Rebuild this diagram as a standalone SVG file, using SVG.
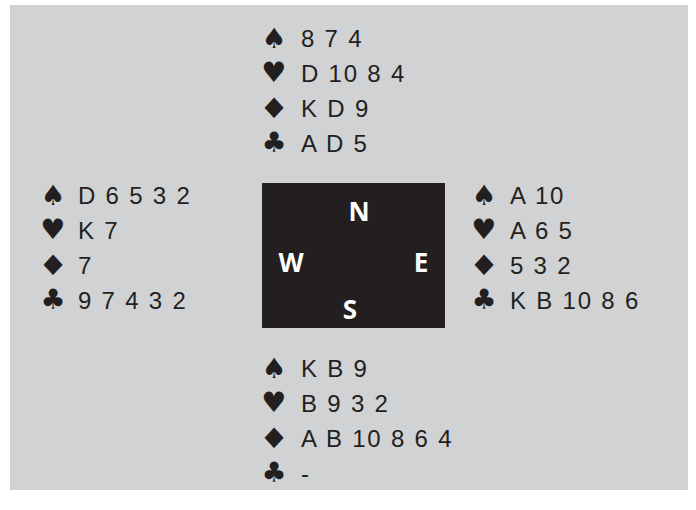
<svg xmlns="http://www.w3.org/2000/svg" width="696" height="510" viewBox="0 0 696 510">
<style>
.card{font-family:"Liberation Sans",Arial,sans-serif;font-size:24px;letter-spacing:1.8px;fill:#231f20}
.suit{font-family:"DejaVu Sans",sans-serif;font-size:28px;fill:#231f20;text-anchor:middle}
.dia{font-family:"DejaVu Sans",sans-serif;font-size:28px;fill:#231f20;text-anchor:middle}
.dir{font-family:"Open Sans","DejaVu Sans",sans-serif;font-weight:bold;font-size:26px;fill:#ffffff;text-anchor:middle}
</style>
<rect x="10" y="5" width="678" height="485" fill="#d1d2d4"/>
<g id="table">
<rect x="262" y="183" width="183" height="145" fill="#231f20"/>
<text class="dir" x="359" y="221">N</text>
<text class="dir" x="291" y="272">W</text>
<text class="dir" x="421" y="272">E</text>
<text class="dir" x="350" y="319">S</text>
</g>
<g id="north">
<text class="suit" x="274" y="48">♠</text><text class="card" x="301" y="47">8 7 4</text>
<text class="suit" x="274" y="82">♥</text><text class="card" x="301" y="82">D 10 8 4</text>
<text class="dia" transform="translate(274,118) scale(1.2,1)">♦</text><text class="card" x="301" y="117">K D 9</text>
<text class="suit" x="274" y="152">♣</text><text class="card" x="301" y="152">A D 5</text>
</g>
<g id="west">
<text class="suit" x="53" y="205">♠</text><text class="card" x="78" y="204">D 6 5 3 2</text>
<text class="suit" x="53" y="239">♥</text><text class="card" x="78" y="239">K 7</text>
<text class="dia" transform="translate(53,275) scale(1.2,1)">♦</text><text class="card" x="78" y="274">7</text>
<text class="suit" x="53" y="309">♣</text><text class="card" x="78" y="309">9 7 4 3 2</text>
</g>
<g id="east">
<text class="suit" x="484" y="205">♠</text><text class="card" x="510" y="204">A 10</text>
<text class="suit" x="484" y="239">♥</text><text class="card" x="510" y="239">A 6 5</text>
<text class="dia" transform="translate(484,275) scale(1.2,1)">♦</text><text class="card" x="510" y="274">5 3 2</text>
<text class="suit" x="484" y="309">♣</text><text class="card" x="510" y="309">K B 10 8 6</text>
</g>
<g id="south">
<text class="suit" x="274" y="378">♠</text><text class="card" x="301" y="377">K B 9</text>
<text class="suit" x="274" y="412">♥</text><text class="card" x="301" y="412">B 9 3 2</text>
<text class="dia" transform="translate(274,448) scale(1.2,1)">♦</text><text class="card" x="301" y="447">A B 10 8 6 4</text>
<text class="suit" x="274" y="482">♣</text><text class="card" x="301" y="482">-</text>
</g>
</svg>
